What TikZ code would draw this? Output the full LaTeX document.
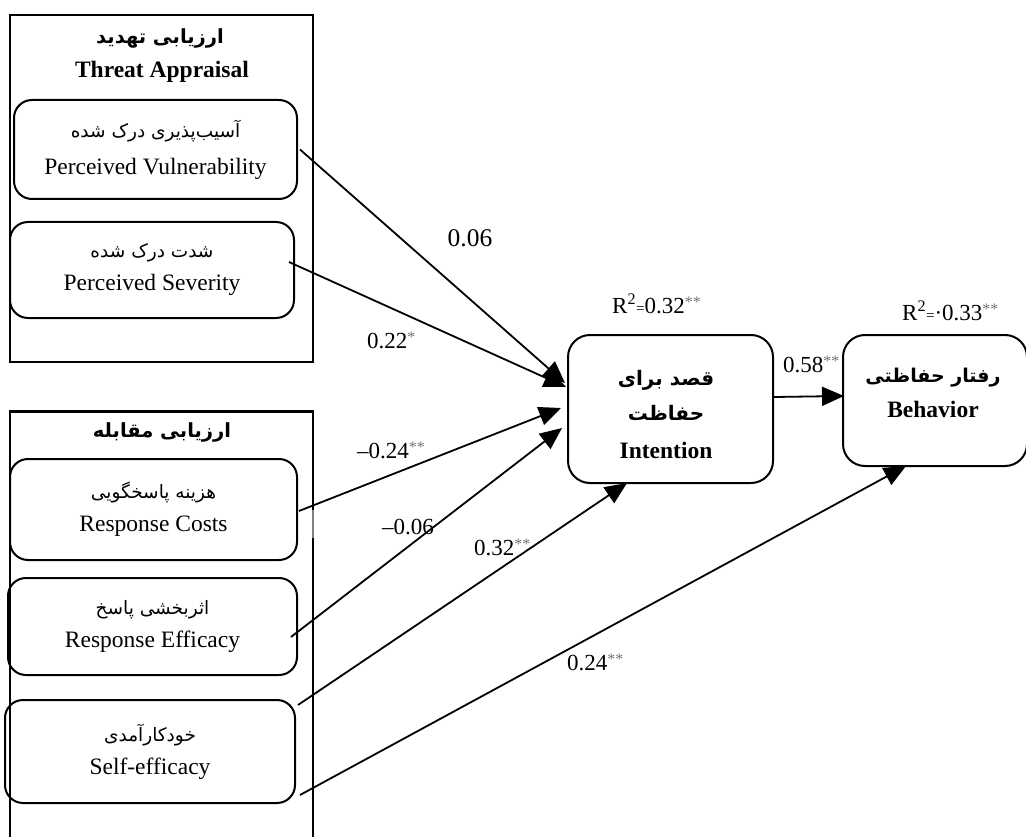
\documentclass[tikz,border=0pt]{standalone}
\usepackage{fontspec}
\setmainfont{Liberation Serif}
\newfontfamily\fafont[Script=Arabic]{DejaVu Sans}
\TeXXeTstate=1
\usetikzlibrary{arrows.meta}
\newcommand{\fa}[1]{{\fafont\beginR #1\endR}}
\newcommand{\stars}[1]{\raisebox{6pt}{\color{black!55}\fontsize{16}{16}\selectfont #1}}
\newcommand{\smeq}{{\fontsize{15}{16}\selectfont=}}
\begin{document}
\begin{tikzpicture}[x=1pt,y=-1pt,
  frame/.style={draw, line width=2.2pt},
  item/.style={draw, line width=2pt, rounded corners=18pt, inner sep=0pt, align=center, font=\fontsize{23.5}{37}\selectfont},
  mainbox/.style={draw, line width=2pt, rounded corners=22pt, inner sep=0pt, align=center, font=\fontsize{23.5}{33}\selectfont\bfseries},
  path/.style={line width=1.8pt, -{Triangle[length=22pt,width=19pt]}},
  lab/.style={inner sep=0pt, font=\fontsize{23}{26}\selectfont}
]
\useasboundingbox (0,0) rectangle (1026,837);
% containers
\node[frame, minimum width=303pt, minimum height=347pt, inner sep=0pt] (threat) at (161.5,188.5) {};
\draw[frame] (10,845) -- (10,411.5) -- (313,411.5) -- (313,845);
\node[inner sep=0pt, font=\fontsize{19.5}{24}\selectfont\bfseries] (threatfa) at (160,38) {\fa{ارزیابی تهدید}};
\node[inner sep=0pt, font=\fontsize{23.5}{26}\selectfont\bfseries] (threaten) at (162,72) {Threat Appraisal};
\node[inner sep=0pt, font=\fontsize{19.5}{24}\selectfont\bfseries] (copingfa) at (162,432) {\fa{ارزیابی مقابله}};
% items
\node[item, minimum width=283pt, minimum height=99pt] (vuln) at (155.5,149.5)
  {{\fontsize{18.5}{20}\selectfont\fa{آسیب‌پذیری درک شده}}\\[0pt] Perceived Vulnerability};
\node[item, minimum width=284pt, minimum height=96pt] (sev) at (152,270)
  {{\fontsize{18.5}{20}\selectfont\fa{شدت درک شده}}\\[-4pt] Perceived Severity};
\node[item, minimum width=287pt, minimum height=101pt] (cost) at (153.5,509.5)
  {{\fontsize{18.5}{20}\selectfont\fa{هزینه پاسخگویی}}\\[-4pt] Response Costs};
\node[item, minimum width=289pt, minimum height=97pt] (eff) at (152.5,626.5)
  {{\fontsize{18.5}{20}\selectfont\fa{اثربخشی پاسخ}}\\[-4pt] Response Efficacy};
\node[item, minimum width=290pt, minimum height=103pt] (self) at (150,751.5)
  {{\fontsize{18.5}{20}\selectfont\fa{خودکارآمدی}}\\[-4pt] Self-efficacy};
% main boxes
\node[mainbox, minimum width=205pt, minimum height=148pt] (int) at (670.5,409) {};
\node[inner sep=0pt, font=\fontsize{20}{22}\selectfont\bfseries] (intfa1) at (666,380) {\fa{قصد برای}};
\node[inner sep=0pt, font=\fontsize{20}{22}\selectfont\bfseries] (intfa2) at (666,413) {\fa{حفاظت}};
\node[inner sep=0pt, font=\fontsize{23.5}{26}\selectfont\bfseries] (inten) at (666,450) {Intention};
\node[mainbox, minimum width=184pt, minimum height=131pt] (beh) at (935,400.5) {};
\node[inner sep=0pt, font=\fontsize{19}{22}\selectfont\bfseries] (behfa) at (933,378) {\fa{رفتار حفاظتی}};
\node[inner sep=0pt, font=\fontsize{23.5}{26}\selectfont\bfseries] (behen) at (933,409) {Behavior};
% artifact
\draw[gray, line width=1.5pt] (313,510) -- (313,538);
% paths
\draw[path] ([xshift=2pt]vuln.east) -- ([xshift=-2pt,yshift=26pt]int.west);
\draw[path] ([xshift=-6pt,yshift=8pt]sev.east) -- ([xshift=-1pt,yshift=22pt]int.west);
\draw[path] ([xshift=1pt,yshift=-1.5pt]cost.east) -- ([xshift=-6pt,yshift=1pt]int.west);
\draw[path] ([xshift=-7pt,yshift=-10.5pt]eff.east) -- ([xshift=-5pt,yshift=-19pt]int.west);
\draw[path] ([xshift=2pt,yshift=46.5pt]self.east) -- ([xshift=-43.5pt,yshift=1pt]int.south);
\draw[path] ([xshift=4pt,yshift=-43.5pt]self.east) -- ([xshift=-29pt,yshift=1pt]beh.south);
\draw[path] ([yshift=12pt]int.east) -- ([xshift=2pt,yshift=4.5pt]beh.west);
% labels
\node[lab, font=\fontsize{25.5}{28}\selectfont] (l1) at (470,238) {0.06};
\node[lab, anchor=west] (l2) at (367,340) {0.22\stars{*}};
\node[lab, anchor=west] (l3) at (357,450) {–0.24\stars{**}};
\node[lab, anchor=west] (l4) at (382,527) {–0.06};
\node[lab, anchor=west] (l5) at (474,547) {0.32\stars{**}};
\node[lab, anchor=west] (l6) at (567,662) {0.24\stars{**}};
\node[lab, anchor=west] (l7) at (783,364) {0.58\stars{**}};
\node[lab, anchor=west] (r1) at (612,304) {R\textsuperscript{2}\smeq0.32\stars{**}};
\node[lab, anchor=west] (r2) at (902,311) {R\textsuperscript{2}\smeq·0.33\stars{**}};
\end{tikzpicture}
\end{document}
